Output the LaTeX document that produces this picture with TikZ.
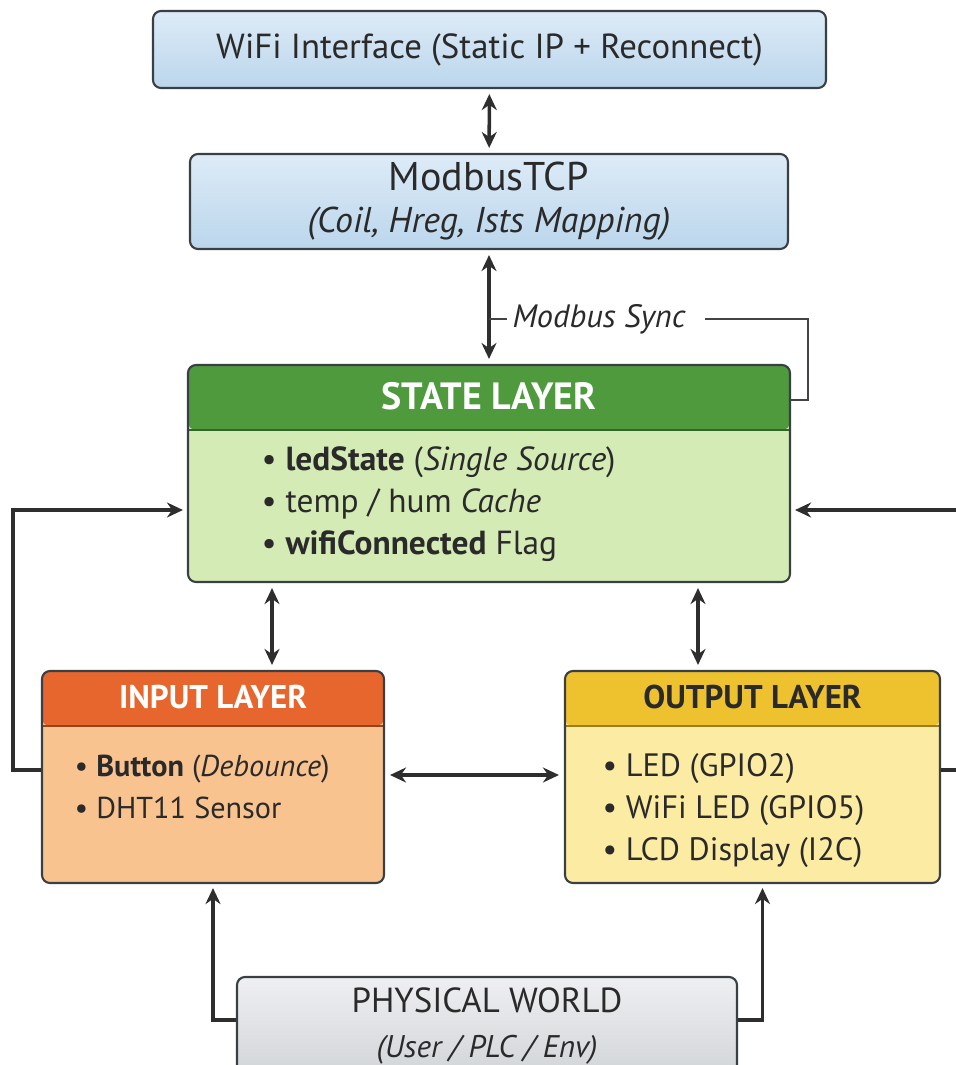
\documentclass[tikz,border=0pt]{standalone}
\usepackage{fontspec}
\setmainfont{PT Sans}
\usepackage{xcolor}
\usepackage{tikz}
\usetikzlibrary{positioning, shapes, arrows.meta}

\definecolor{edgegray}{HTML}{3A3F44}
\definecolor{linkgray}{HTML}{2E2E2E}
\definecolor{textdark}{HTML}{2A2A2A}
\definecolor{nettop}{HTML}{DDEBF7}
\definecolor{netbot}{HTML}{BBD6EC}
\definecolor{statehead}{HTML}{4F9A3D}
\definecolor{statebody}{HTML}{D4EBB6}
\definecolor{inputhead}{HTML}{E6662D}
\definecolor{inputbody}{HTML}{F9C390}
\definecolor{outputhead}{HTML}{EEC12F}
\definecolor{outputbody}{HTML}{FCEBA3}
\definecolor{worldtop}{HTML}{EEEFF1}
\definecolor{worldbot}{HTML}{D2D5D8}

\tikzset{
  box/.style={draw=edgegray, line width=0.6pt, rounded corners=0.08cm, inner sep=0pt, text=textdark},
  netbox/.style={box, top color=nettop, bottom color=netbot, font=\fontsize{9.9}{11}\selectfont},
  worldbox/.style={box, top color=worldtop, bottom color=worldbot, font=\fontsize{9.9}{11}\selectfont},
  layerbox/.style n args={3}{box, fill=#2, path picture={
      \fill[#1] (path picture bounding box.north west) rectangle ([yshift=-#3]path picture bounding box.north east);
      \draw[#1!65!black, line width=0.7pt] ([yshift=-#3]path picture bounding box.north west) -- ([yshift=-#3]path picture bounding box.north east);}},
  headtext/.style={font=\bfseries\fontsize{9.35}{11}\selectfont, inner sep=0pt},
  items/.style={font=\fontsize{8.6}{11.95}\selectfont, align=left, inner sep=0pt, text=textdark, anchor=north west},
  synclabel/.style={font=\itshape\fontsize{9.2}{10}\selectfont, text=textdark, inner xsep=0.05cm, inner ysep=0pt},
  arrow/.style={draw=linkgray, line width=1pt, -{Stealth[length=0.16cm, width=0.15cm]}, shorten >=0.04cm},
  biarrow/.style={arrow, {Stealth[length=0.16cm, width=0.15cm]}-{Stealth[length=0.16cm, width=0.15cm]}, shorten <=0.05cm, shorten >=0.05cm},
  syncline/.style={draw=linkgray!90, line width=0.5pt}
}

\begin{document}
\begin{tikzpicture}
  \useasboundingbox (0,0) rectangle (9.55,-10.65);

  % network side
  \node (wifi) [netbox, minimum width=6.73cm, minimum height=0.77cm] at (4.895,-0.495) {WiFi Interface (Static IP + Reconnect)};
  \node (modbus) [netbox, minimum width=5.98cm, minimum height=0.95cm, align=center] at (4.89,-2.015) {{\fontsize{11.4}{12}\selectfont ModbusTCP}\\[1pt]{\fontsize{10.2}{12}\selectfont\textit{(Coil, Hreg, Ists Mapping)}}};

  % layers
  \node (state) [layerbox={statehead}{statebody}{0.65cm}, minimum width=6.02cm, minimum height=2.17cm] at (4.89,-4.735) {};
  \node (statetitle) [headtext, text=white, font=\bfseries\fontsize{10.8}{12}\selectfont] at ([yshift=-0.325cm]state.north) {STATE LAYER};
  \node (stateitems) [items, font=\fontsize{9.5}{11.95}\selectfont] at ([xshift=0.74cm,yshift=-0.82cm]state.north west) {%
    • \textbf{ledState} (\textit{Single Source})\\
    • temp / hum \textit{Cache}\\
    • \textbf{wifiConnected} Flag};

  \node (input) [layerbox={inputhead}{inputbody}{0.55cm}, minimum width=3.42cm, minimum height=2.12cm] at (2.13,-7.77) {};
  \node (inputtitle) [headtext, text=white] at ([yshift=-0.275cm]input.north) {INPUT LAYER};
  \node (inputitems) [items] at ([xshift=0.33cm,yshift=-0.84cm]input.north west) {%
    • \textbf{Button} (\textit{Debounce})\\
    • DHT11 Sensor};

  \node (output) [layerbox={outputhead}{outputbody}{0.55cm}, minimum width=3.75cm, minimum height=2.12cm] at (7.525,-7.77) {};
  \node (outputtitle) [headtext, text=textdark] at ([yshift=-0.275cm]output.north) {OUTPUT LAYER};
  \node (outputitems) [items, font=\fontsize{9.2}{11.95}\selectfont] at ([xshift=0.38cm,yshift=-0.83cm]output.north west) {%
    • LED (GPIO2)\\
    • WiFi LED (GPIO5)\\
    • LCD Display (I2C)};

  \node (world) [worldbox, minimum width=5.0cm, minimum height=0.98cm, align=center] at (4.87,-10.26) {PHYSICAL WORLD\\[2pt]{\fontsize{8.9}{11}\selectfont\textit{(User / PLC / Env)}}};

  % link columns
  \coordinate (leftlink) at (2.72,-6.2);
  \coordinate (rightlink) at (6.98,-6.2);
  \coordinate (midlink) at (4.7,-7.75);
  \coordinate (syncturn) at (8.08,-3.2);

  % connectors
  \draw[biarrow] (wifi) -- (modbus);
  \draw[biarrow] (modbus) -- (state);
  \draw[biarrow] (state.south -| leftlink) -- (input.north -| leftlink);
  \draw[biarrow] (state.south -| rightlink) -- (output.north -| rightlink);
  \draw[biarrow] (input.east |- midlink) -- (output.west |- midlink);

  \node (sync) [synclabel] at (5.99,-3.19) {Modbus Sync};
  \draw[syncline] (sync.west -| modbus.south) -- (sync.west);
  \draw[syncline] ([xshift=0.14cm]sync.east) -- (sync.east -| syncturn) |- ([yshift=-0.36cm]state.north east);

  \draw[arrow] ([yshift=0.07cm]input.west) -- ++(-0.28,0) |- ([yshift=-0.365cm]state.west);
  \draw[arrow] ([yshift=0.07cm]output.east) -- ++(0.3,0) |- ([yshift=-0.365cm]state.east);

  \draw[arrow] ([yshift=0.06cm]world.west) -| (input.south);
  \draw[arrow] ([yshift=0.06cm]world.east) -| ([xshift=0.1cm]output.south);
\end{tikzpicture}
\end{document}
